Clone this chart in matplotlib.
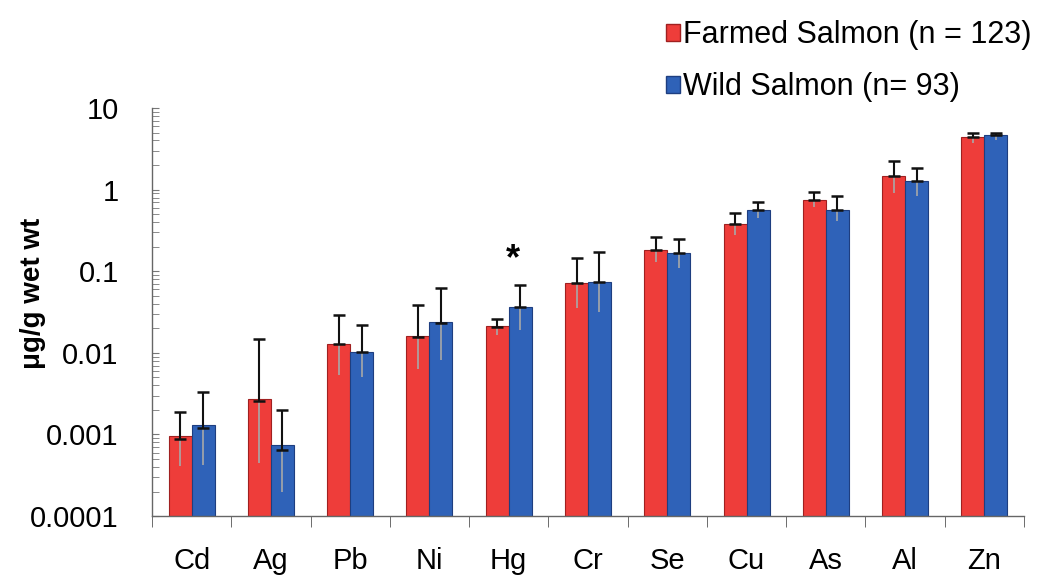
import numpy as np
import matplotlib.pyplot as plt
from matplotlib.patches import Patch
from matplotlib.ticker import LogLocator, FixedLocator, NullFormatter

plt.rcParams['font.family'] = ['Liberation Sans', 'DejaVu Sans']

# metals and concentrations (ug/g wet wt)
metals = ['Cd', 'Ag', 'Pb', 'Ni', 'Hg', 'Cr', 'Se', 'Cu', 'As', 'Al', 'Zn']

farmed = [0.00087, 0.0026, 0.0129, 0.0158, 0.021, 0.072, 0.18, 0.38, 0.75, 1.48, 4.37]
farmed_hi = [0.0019, 0.0148, 0.029, 0.039, 0.026, 0.145, 0.26, 0.51, 0.94, 2.24, 4.98]
farmed_lo = [0.00041, 0.00045, 0.0054, 0.0063, 0.0166, 0.035, 0.13, 0.28, 0.61, 0.91, 3.69]

wild = [0.0012, 0.00065, 0.0102, 0.0235, 0.036, 0.074, 0.166, 0.56, 0.57, 1.27, 4.67]
wild_hi = [0.0033, 0.0020, 0.022, 0.063, 0.068, 0.17, 0.25, 0.71, 0.83, 1.86, 4.98]
wild_lo = [0.00042, 0.0002, 0.0051, 0.0081, 0.019, 0.032, 0.11, 0.45, 0.41, 0.83, 4.06]

labels = ['Farmed Salmon (n = 123)', 'Wild Salmon (n= 93)']
red = '#EE3D3A'
blue = '#2F62B8'

fig = plt.figure(figsize=(10.47, 5.76), dpi=100)
ax = fig.add_axes([0.1452, 0.104, 0.8328, 0.7085])

x = np.arange(len(metals))
w = 0.29

groups = [(farmed, farmed_hi, farmed_lo, red, '#A02020', -w / 2),
          (wild, wild_hi, wild_lo, blue, '#1E3E80', w / 2)]

for vals, hi, lo, col, edge, off in groups:
    vals = np.array(vals)
    hi = np.array(hi)
    lo = np.array(lo)
    ax.bar(x + off, vals, width=w, bottom=0.0001, color=col,
           edgecolor=edge, linewidth=0.8, zorder=2)
    # lower half of error bar shows faintly inside the bar
    ax.vlines(x + off, lo, vals, color='#a8a8a8', linewidth=1.2, zorder=3)
    ax.errorbar(x + off, vals, yerr=[np.zeros_like(vals), hi - vals],
                fmt='none', ecolor='#111111', elinewidth=1.5,
                capsize=4.5, capthick=1.8, zorder=4)

# significance marker above Hg
ax.text(4.05, 0.14, '*', ha='center', va='center', fontsize=26,
        fontweight='bold')

ax.set_yscale('log')
ax.set_ylim(0.0001, 10)
ax.set_xlim(-0.5, len(metals) - 0.5)

ax.set_yticks([0.0001, 0.001, 0.01, 0.1, 1, 10])
ax.set_yticklabels(['0.0001', '0.001', '0.01', '0.1', '1', '10'])
ax.yaxis.set_minor_locator(LogLocator(base=10, subs=np.arange(2, 10)))
ax.yaxis.set_minor_formatter(NullFormatter())
ax.tick_params(axis='y', which='both', direction='in', length=5,
               color='#777777', labelsize=21, pad=24)

ax.set_xticks(x)
ax.set_xticklabels(metals)
ax.xaxis.set_minor_locator(FixedLocator(np.arange(-0.5, len(metals), 1.0)))
ax.tick_params(axis='x', which='major', length=0, labelsize=21, pad=22)
ax.tick_params(axis='x', which='minor', direction='out', length=8,
               color='#555555')

# y label placed by hand, the tick labels are wide
fig.text(33 / 1047, 0.49, '\u03bcg/g wet wt', rotation=90, ha='center',
         va='center', fontsize=20, fontweight='bold')

for s in ['top', 'right']:
    ax.spines[s].set_visible(False)
for s in ['left', 'bottom']:
    ax.spines[s].set_color('#666666')
    ax.spines[s].set_linewidth(1.0)

handles = [Patch(facecolor=red, edgecolor='#A02020'),
           Patch(facecolor=blue, edgecolor='#1E3E80')]
fig.legend(handles, labels, loc='upper left', bbox_to_anchor=(0.636, 0.965),
           frameon=False, fontsize=22, handlelength=0.45, handleheight=0.5,
           handletextpad=0.12, labelspacing=0.72, borderpad=0,
           borderaxespad=0)

fig.savefig('out.png', dpi=100)
